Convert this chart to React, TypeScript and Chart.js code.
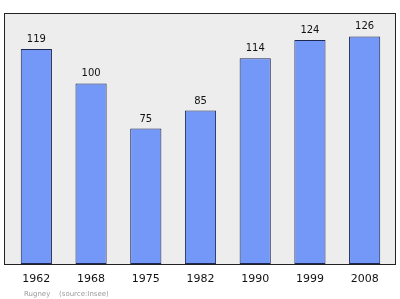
import React, { useEffect, useRef } from "react";
import { Chart, registerables } from "chart.js";

Chart.register(...registerables);

const years = ["1962", "1968", "1975", "1982", "1990", "1999", "2008"];
const population = [119, 100, 75, 85, 114, 124, 126];
const commune = "Rugney";
const sourceNote = "(source:Insee)";

const frame = { left: 4, top: 13, right: 395, bottom: 264 };

const decorPlugin = {
  id: "decor",
  beforeDraw(chart: any) {
    const { ctx } = chart;
    ctx.save();
    ctx.fillStyle = "#ffffff";
    ctx.fillRect(0, 0, chart.width, chart.height);
    ctx.fillStyle = "#ededed";
    ctx.fillRect(frame.left, frame.top, frame.right - frame.left, frame.bottom - frame.top);
    ctx.restore();
  },
  afterDatasetsDraw(chart: any) {
    const { ctx, scales } = chart;
    const x = scales.x;
    const y = scales.y;
    ctx.save();
    ctx.strokeStyle = "#222222";
    ctx.lineWidth = 1;
    ctx.strokeRect(frame.left + 0.5, frame.top + 0.5, frame.right - frame.left, frame.bottom - frame.top);

    ctx.fillStyle = "#111111";
    ctx.textAlign = "center";
    ctx.textBaseline = "alphabetic";
    ctx.font = "10px 'DejaVu Sans', sans-serif";
    population.forEach((v, i) => {
      ctx.fillText(String(v), x.getPixelForValue(i), y.getPixelForValue(v) - 7);
    });

    ctx.font = "11px 'DejaVu Sans', sans-serif";
    ctx.fillStyle = "#111111";
    years.forEach((yr, i) => {
      ctx.fillText(yr, x.getPixelForValue(i), 282);
    });

    ctx.font = "7px 'DejaVu Sans', sans-serif";
    ctx.fillStyle = "#9a9a9a";
    ctx.textAlign = "left";
    ctx.fillText(commune, 24, 296);
    ctx.fillText(sourceNote, 59, 296);
    ctx.restore();
  },
};

export default function App() {
  const canvasRef = useRef<HTMLCanvasElement | null>(null);

  useEffect(() => {
    document.body.style.margin = "0";
    const canvas = canvasRef.current;
    if (!canvas) return;
    const chart = new Chart(canvas, {
      type: "bar",
      data: {
        labels: years,
        datasets: [
          {
            data: population,
            backgroundColor: "#7398f8",
            borderColor: "#1e2850",
            borderWidth: 1,
            borderSkipped: false,
            categoryPercentage: 1,
            barPercentage: 0.57,
          },
        ],
      },
      options: {
        responsive: false,
        animation: false,
        devicePixelRatio: 1,
        layout: { padding: { left: 9, right: 8, top: 13, bottom: 35 } },
        plugins: { legend: { display: false }, tooltip: { enabled: false } },
        scales: {
          x: { display: false, offset: true },
          y: { display: false, min: 0, max: 139 },
        },
      },
      plugins: [decorPlugin],
    });
    return () => chart.destroy();
  }, []);

  return <canvas ref={canvasRef} width={400} height={299} style={{ display: "block" }} />;
}
